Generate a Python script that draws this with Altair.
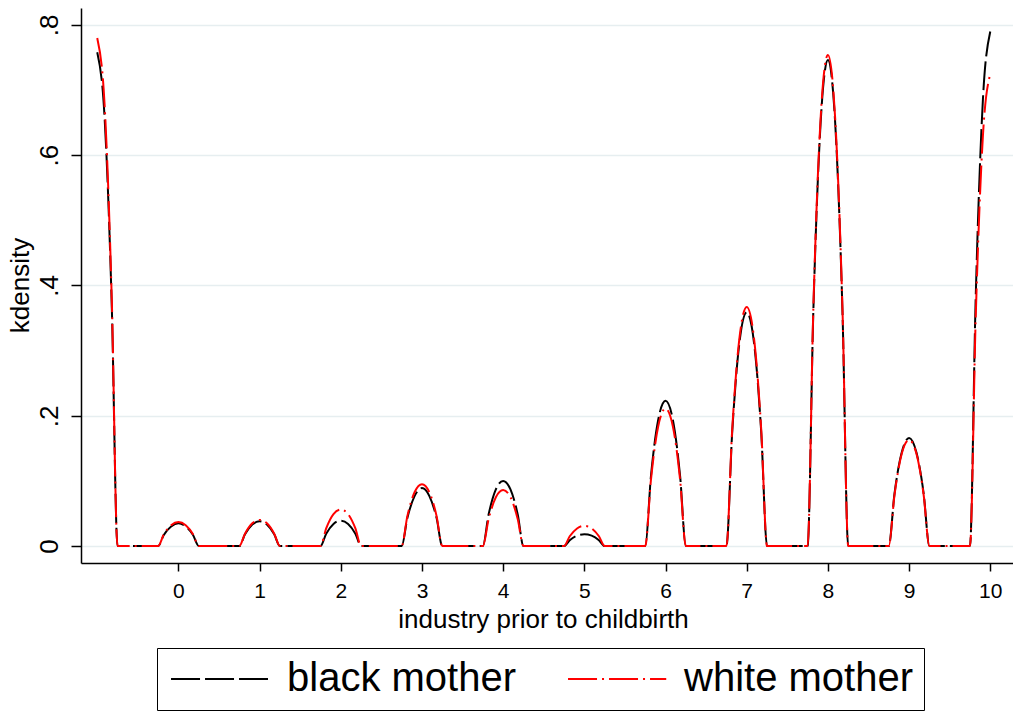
import altair as alt
import pandas as pd

# evaluation grid (industry code)
xs = [-1.0, -0.91, -0.82, -0.75,
      -0.25, -0.18, -0.09, 0.0, 0.09, 0.18, 0.25,
      0.75, 0.82, 0.91, 1.0, 1.09, 1.18, 1.25,
      1.75, 1.82, 1.91, 2.0, 2.09, 2.18, 2.25,
      2.75, 2.82, 2.91, 3.0, 3.09, 3.18, 3.25,
      3.75, 3.82, 3.91, 4.0, 4.09, 4.18, 4.25,
      4.75, 4.82, 4.91, 5.0, 5.09, 5.18, 5.25,
      5.75, 5.82, 5.91, 6.0, 6.09, 6.18, 6.25,
      6.75, 6.82, 6.91, 7.0, 7.09, 7.18, 7.25,
      7.75, 7.82, 7.91, 8.0, 8.09, 8.18, 8.25,
      8.75, 8.82, 8.91, 9.0, 9.09, 9.18, 9.25,
      9.75, 9.82, 9.91, 10.0]

black_mother = [0.758, 0.659, 0.364, 0.0,
                0.0, 0.017, 0.030, 0.035, 0.030, 0.017, 0.0,
                0.0, 0.018, 0.033, 0.038, 0.033, 0.018, 0.0,
                0.0, 0.019, 0.034, 0.039, 0.034, 0.019, 0.0,
                0.0, 0.043, 0.077, 0.089, 0.077, 0.043, 0.0,
                0.0, 0.048, 0.087, 0.100, 0.087, 0.048, 0.0,
                0.0, 0.009, 0.016, 0.018, 0.016, 0.009, 0.0,
                0.0, 0.107, 0.194, 0.223, 0.194, 0.107, 0.0,
                0.0, 0.172, 0.312, 0.359, 0.312, 0.172, 0.0,
                0.0, 0.358, 0.649, 0.746, 0.649, 0.358, 0.0,
                0.0, 0.080, 0.144, 0.166, 0.144, 0.080, 0.0,
                0.0, 0.379, 0.687, 0.790]

white_mother = [0.780, 0.679, 0.374, 0.0,
                0.0, 0.018, 0.032, 0.037, 0.032, 0.018, 0.0,
                0.0, 0.019, 0.035, 0.040, 0.035, 0.019, 0.0,
                0.0, 0.027, 0.049, 0.056, 0.049, 0.027, 0.0,
                0.0, 0.046, 0.083, 0.095, 0.083, 0.046, 0.0,
                0.0, 0.041, 0.075, 0.086, 0.075, 0.041, 0.0,
                0.0, 0.015, 0.027, 0.031, 0.027, 0.015, 0.0,
                0.0, 0.101, 0.184, 0.211, 0.184, 0.101, 0.0,
                0.0, 0.176, 0.319, 0.367, 0.319, 0.176, 0.0,
                0.0, 0.362, 0.656, 0.754, 0.656, 0.362, 0.0,
                0.0, 0.078, 0.142, 0.163, 0.142, 0.078, 0.0,
                0.0, 0.348, 0.631, 0.725]

series_names = ["black mother", "white mother"]
series_colors = ["#000000", "#FF0000"]
series_dashes = [[29, 5], [29, 5, 2, 5]]
x_ticks = [0, 1, 2, 3, 4, 5, 6, 7, 8, 9, 10]
y_ticks = [0, 0.2, 0.4, 0.6, 0.8]

rows = []
for name, ys in zip(series_names, [black_mother, white_mother]):
    for x, y in zip(xs, ys):
        rows.append({"x": x, "y": y, "series": name})
df = pd.DataFrame(rows)

FONT = "Liberation Sans"

x_enc = alt.X("x:Q",
              scale=alt.Scale(domain=[-1.2, 10.28], nice=False, zero=False),
              axis=alt.Axis(values=x_ticks, title="industry prior to childbirth",
                            grid=False, tickSize=8, tickWidth=1.5, tickColor="black",
                            domainColor="black", domainWidth=1.5,
                            labelFontSize=21, labelPadding=9, labelColor="black",
                            labelFont=FONT,
                            titleFontSize=26, titleFontWeight="normal", titleFont=FONT,
                            titleColor="black", titleBaseline="alphabetic",
                            titleX=462, titleY=64, titleAlign="center"))
y_enc = alt.Y("y:Q",
              scale=alt.Scale(domain=[-0.026, 0.826], nice=False, zero=False),
              axis=alt.Axis(values=y_ticks, title="kdensity",
                            labelExpr="datum.value == 0 ? '0' : slice(format(datum.value, '.1f'), 1)",
                            grid=True, gridColor="#E6EEF0", gridWidth=1.5,
                            tickSize=10, tickWidth=1.5, tickColor="black",
                            domainColor="black", domainWidth=1.5,
                            labelAngle=270, labelAlign="center", labelBaseline="bottom",
                            labelPadding=9, labelFontSize=26, labelColor="black",
                            labelFont=FONT,
                            titleFontSize=26, titleFontWeight="normal", titleFont=FONT,
                            titleColor="black", titleAngle=270, titleBaseline="alphabetic",
                            titleAlign="center", titleX=-53, titleY=277))

legend_kw = dict(orient="none", legendX=76, legendY=640,
                 direction="horizontal", columns=2,
                 strokeColor="black", padding=11,
                 symbolType="M-1.4,0H6.7", symbolSize=588,
                 symbolStrokeWidth=2, labelOffset=79,
                 columnPadding=48,
                 labelFontSize=40, labelFont=FONT,
                 labelColor="black", labelLimit=0)

color_enc = alt.Color("series:N", title=None,
                      scale=alt.Scale(domain=series_names, range=series_colors),
                      legend=alt.Legend(**legend_kw))
dash_enc = alt.StrokeDash("series:N", title=None,
                          scale=alt.Scale(domain=series_names, range=series_dashes),
                          legend=alt.Legend(**legend_kw))

base = alt.Chart(df).mark_line(strokeWidth=2, interpolate="monotone").encode(
    x=x_enc, y=y_enc, color=color_enc, strokeDash=dash_enc,
    order=alt.Order("x:Q"))

black_layer = base.transform_filter(alt.datum.series == "black mother")
white_layer = base.transform_filter(alt.datum.series == "white mother")

chart = alt.layer(black_layer, white_layer).properties(
    width=932, height=555,
    autosize=alt.AutoSizeParams(type="none"),
    padding={"left": 81, "top": 8, "right": 0, "bottom": 148},
    background="white",
).configure_view(strokeWidth=0)

chart.save("out.html", embed_options={"renderer": "svg", "actions": False})
